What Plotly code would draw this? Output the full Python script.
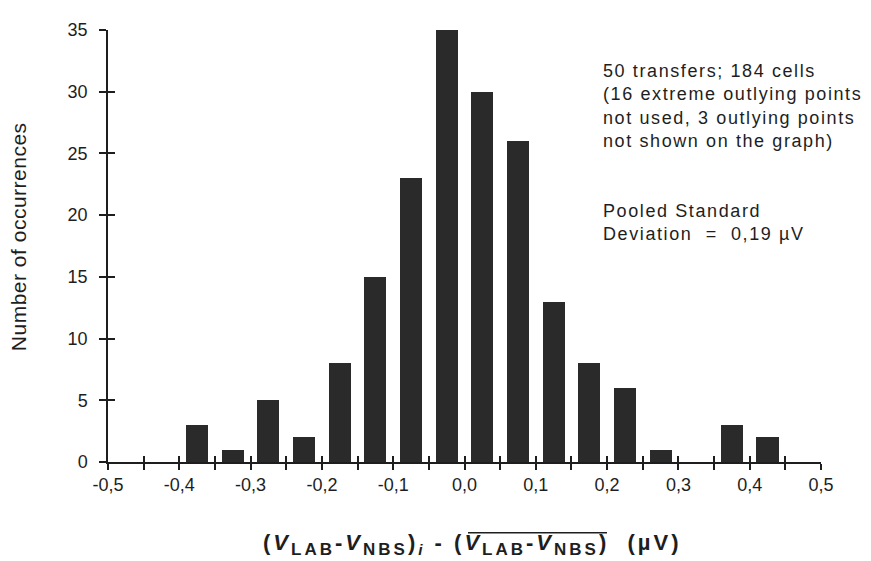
import plotly.graph_objects as go

# ---- data ----
bin_centers = [-0.375, -0.325, -0.275, -0.225, -0.175, -0.125, -0.075, -0.025,
               0.025, 0.075, 0.125, 0.175, 0.225, 0.275, 0.325, 0.375, 0.425]
counts = [3, 1, 5, 2, 8, 15, 23, 35, 30, 26, 13, 8, 6, 1, 0, 3, 2]

x_tickvals = [-0.5, -0.45, -0.4, -0.35, -0.3, -0.25, -0.2, -0.15, -0.1, -0.05,
              0.0, 0.05, 0.1, 0.15, 0.2, 0.25, 0.3, 0.35, 0.4, 0.45, 0.5]
x_ticktext = ["-0,5", "", "-0,4", "", "-0,3", "", "-0,2", "", "-0,1", "",
              "0,0", "", "0,1", "", "0,2", "", "0,3", "", "0,4", "", "0,5"]
y_tickvals = [0, 5, 10, 15, 20, 25, 30, 35]
y_ticktext = ["0", "5", "10", "15", "20", "25", "30", "35"]

FONT = "Liberation Sans, Arial, Helvetica, sans-serif"
INK = "#1e1e1e"
NB = "\u00a0"

# page body has an 8px margin: work in reference-pixel coords and shift
OFF = 8
W, H = 871 - OFF, 561 - OFF
ml, mt = 108 - OFF, 22 - OFF
plotW, plotH = 713, 440
mr = W - ml - plotW
mb = H - mt - plotH


def px(xr):
    return (xr - OFF - ml) / plotW


def py(yr):
    return (mt + plotH - (yr - OFF)) / plotH


def spaced(s, sp):
    return f'<span style="letter-spacing:{sp}px">{s}</span>'


fig = go.Figure()
fig.add_trace(go.Bar(
    x=bin_centers, y=counts, width=0.031,
    marker=dict(color="#2a2a2a", line=dict(width=0)),
    showlegend=False, hoverinfo="x+y",
))
# invisible trace anchoring the inner-tick overlay axes
fig.add_trace(go.Scatter(x=[0], y=[0], xaxis="x2", yaxis="y2",
                         mode="markers", marker=dict(opacity=0),
                         showlegend=False, hoverinfo="skip"))

common_x = dict(range=[-0.5, 0.5], tickmode="array", tickvals=x_tickvals,
                showgrid=False, zeroline=False, ticklen=6, tickwidth=1.5,
                tickcolor=INK)
common_y = dict(range=[0, 35], tickmode="array", tickvals=y_tickvals,
                showgrid=False, zeroline=False, ticklen=7, tickwidth=1.5,
                tickcolor=INK)

fig.update_layout(
    width=W, height=H,
    margin=dict(l=ml, r=mr, t=mt, b=mb, pad=0),
    paper_bgcolor="white", plot_bgcolor="white",
    font=dict(family=FONT, color=INK, size=18),
    bargap=0,
    xaxis=dict(**common_x, ticktext=x_ticktext, ticks="outside",
               showline=True, linecolor=INK, linewidth=1.5,
               ticklabelstandoff=0,
               tickfont=dict(size=18, family=FONT, color=INK)),
    yaxis=dict(**common_y, ticktext=y_ticktext, ticks="outside",
               showline=True, linecolor=INK, linewidth=1.5,
               ticklabelstandoff=8,
               tickfont=dict(size=18, family=FONT, color=INK)),
    xaxis2=dict(**common_x, overlaying="x", ticks="inside",
                showticklabels=False, showline=False, anchor="y2"),
    yaxis2=dict(**common_y, overlaying="y", ticks="inside",
                showticklabels=False, showline=False, anchor="x2"),
)

# y-axis title
fig.add_annotation(text=spaced("Number of occurrences", 0.5),
                   xref="paper", yref="paper", x=px(18), y=py(233),
                   textangle=-90, showarrow=False,
                   font=dict(size=21, family=FONT, color=INK),
                   xanchor="center", yanchor="middle")

# x-axis title
sub = lambda s: f'<sub><span style="font-size:17px">{s}</span></sub>'
xtitle = spaced(f"(<i>V</i>{sub('LAB')}-<i>V</i>{sub('NBS')})"
                f"<sub><i>i</i></sub>{NB}-{NB}"
                f"(<i>V</i>{sub('LAB')}-<i>V</i>{sub('NBS')}){NB}{NB}(\u00b5V)", 3)
fig.add_annotation(text=xtitle, xref="paper", yref="paper",
                   x=px(472), y=py(546), showarrow=False,
                   font=dict(size=22, family=FONT, color=INK, weight="bold"),
                   xanchor="center", yanchor="middle")
# overline on the mean term
fig.add_shape(type="line", xref="paper", yref="paper",
              x0=px(468), x1=px(607), y0=py(534), y1=py(534),
              line=dict(color=INK, width=1.5))

# notes
fig.add_annotation(text=spaced("50 transfers; 184 cells<br>(16 extreme outlying points<br>"
                               "not used, 3 outlying points<br>not shown on the graph)", 1.6),
                   xref="paper", yref="paper", x=px(601), y=py(52),
                   xanchor="left", yanchor="top", align="left", showarrow=False,
                   font=dict(size=18, family=FONT, color=INK))
fig.add_annotation(text=spaced("Pooled Standard<br>Deviation" + NB * 2 + "=" + NB * 2 + "0,19 \u00b5V", 1.6),
                   xref="paper", yref="paper", x=px(601), y=py(194),
                   xanchor="left", yanchor="top", align="left", showarrow=False,
                   font=dict(size=18, family=FONT, color=INK))

fig.write_html("out.html")
